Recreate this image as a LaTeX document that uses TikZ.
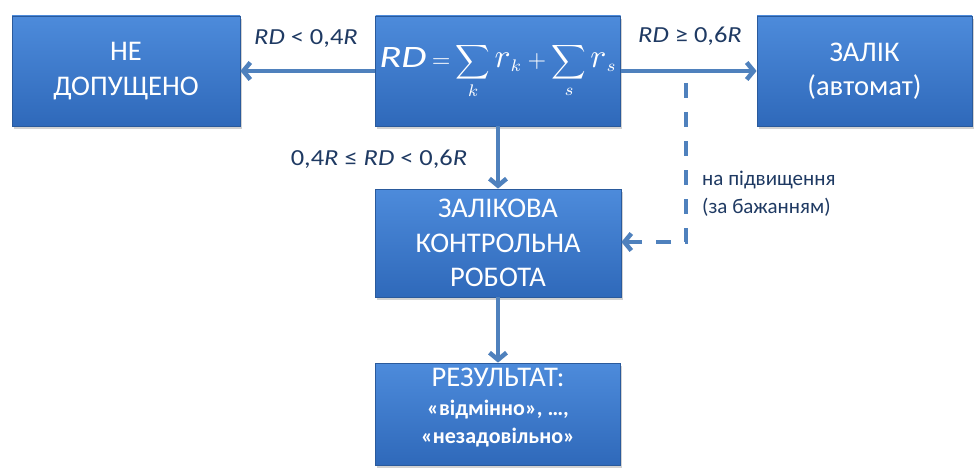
\documentclass[tikz,border=0pt]{standalone}
\usepackage{fontspec}
\setmainfont{Carlito}
\newfontfamily\labfont{Carlito}[FakeStretch=1.15]
\usetikzlibrary{arrows.meta,shadows}
\definecolor{boxtop}{HTML}{4D8BDB}
\definecolor{boxbot}{HTML}{2F69BA}
\definecolor{boxedge}{HTML}{2A5A9C}
\definecolor{arr}{HTML}{4F81BD}
\definecolor{lbl}{HTML}{1F3A63}
\newcommand{\smallbold}{\fontsize{22}{25}\selectfont\bfseries}
\begin{document}
\begin{tikzpicture}[x=1pt,y=-1pt,
  bluebox/.style={draw=boxedge, line width=0.8pt, top color=boxtop, bottom color=boxbot,
    text=white, align=center, inner sep=0pt,
    font=\fontsize{28.5}{34.5}\selectfont,
    drop shadow={opacity=0.35, shadow xshift=1.5pt, shadow yshift=-3pt}},
  conn/.style={draw=arr, line width=4.5pt, -{Straight Barb[length=7pt,width=17pt]}},
  dconn/.style={conn, dash pattern=on 15pt off 14pt},
  lab/.style={text=lbl, font=\labfont\fontsize{23}{26}\selectfont, inner sep=0pt, anchor=base}
]
\useasboundingbox[fill=white] (0,0) rectangle (976,468);

\node[bluebox, minimum width=228pt, minimum height=110pt] (nd) at (126,71) {НЕ\\ДОПУЩЕНО};
\node[bluebox, minimum width=245pt, minimum height=110pt] (f) at (498,71)
  {\fontsize{10}{12}\selectfont\scalebox{2.4}{$\displaystyle
    \scalebox{1.7}[1.3]{$\mathit{RD}$}\mskip-1mu=\mskip-1mu\sum_k \scalebox{1.4}{$r$}_k+\sum_s \scalebox{1.4}{$r$}_s$}};
\node[bluebox, minimum width=215pt, minimum height=110pt] (z) at (864.5,71) {ЗАЛІК\\(автомат)};
\node[bluebox, minimum width=246pt, minimum height=108pt] (zk) at (498,243) {ЗАЛІКОВА\\КОНТРОЛЬНА\\РОБОТА};
\node[bluebox, minimum width=245pt, minimum height=102pt] (r) at (498,414)
  {РЕЗУЛЬТАТ:\\[-6pt]\smallbold «відмінно», …,\\[-6pt]\smallbold «незадовільно»\rule[-16pt]{0pt}{1pt}};

\draw[conn] (f.west) -- (nd.east);
\draw[conn] (f.east) -- (z.west);
\draw[conn] (f.south) -- (zk.north);
\draw[conn] (zk.south) -- (r.north);

\coordinate (d1) at (686,83);
\coordinate (d2) at (686,242);
\draw[dconn] (d1) -- (d2) -- (zk.east |- d2);

\node[lab] (l1) at (306,45) {\textit{RD} < 0,4\textit{R}};
\node[lab] (l2) at (690,43) {\textit{RD} ≥ 0,6\textit{R}};
\node[lab] (l3) at (379,165) {0,4\textit{R} ≤ \textit{RD} < 0,6\textit{R}};
\node[text=lbl, inner sep=0pt, anchor=base west, font=\fontsize{21}{24}\selectfont] (l4) at (702,185) {на підвищення};
\node[text=lbl, inner sep=0pt, anchor=base west, font=\fontsize{21}{24}\selectfont] (l5) at (702,213) {(за бажанням)};
\end{tikzpicture}
\end{document}
